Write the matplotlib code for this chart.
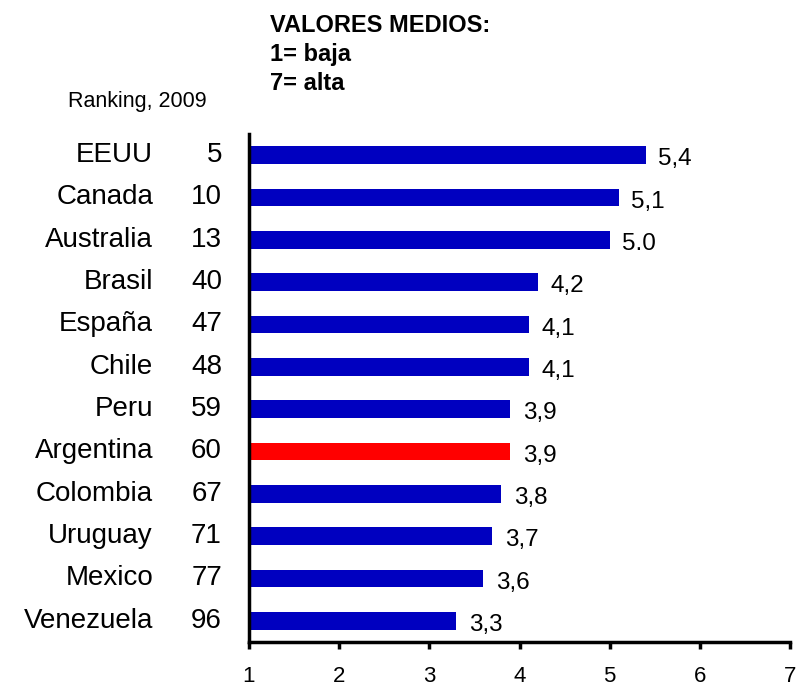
import matplotlib.pyplot as plt

plt.rcParams['font.family'] = ['Liberation Sans', 'DejaVu Sans']

paises = ['EEUU', 'Canada', 'Australia', 'Brasil', 'España', 'Chile',
          'Peru', 'Argentina', 'Colombia', 'Uruguay', 'Mexico', 'Venezuela']
ranking = [5, 10, 13, 40, 47, 48, 59, 60, 67, 71, 77, 96]
valores = [5.4, 5.1, 5.0, 4.2, 4.1, 4.1, 3.9, 3.9, 3.8, 3.7, 3.6, 3.3]
etiquetas = ['5,4', '5,1', '5.0', '4,2', '4,1', '4,1',
             '3,9', '3,9', '3,8', '3,7', '3,6', '3,3']

colores = ['#ff0000' if p == 'Argentina' else '#0000c0' for p in paises]

fig = plt.figure(figsize=(7.96, 6.87), dpi=100)
ax = fig.add_axes([249 / 796, 1 - 642 / 687, 541 / 796, 508 / 687])

y = list(range(len(paises)))
ax.barh(y, [v - 1 for v in valores], left=1, height=0.41, color=colores)

for i, (v, t) in enumerate(zip(valores, etiquetas)):
    ax.text(v + 0.14, i + 0.1, t, fontsize=17.5, va='center', ha='left')

ax.set_xlim(1, 7)
ax.set_ylim(len(paises) - 0.5, -0.5)
ax.set_xticks(range(1, 8))
ax.set_yticks([])
ax.tick_params(axis='x', length=5, width=2.5, direction='out', labelsize=16, pad=12)

for s in ['top', 'right']:
    ax.spines[s].set_visible(False)
ax.spines['left'].set_linewidth(2.5)
ax.spines['bottom'].set_linewidth(2.5)

# nombres de paises y puesto en el ranking a la izquierda
tr = ax.get_yaxis_transform()
for i, (p, r) in enumerate(zip(paises, ranking)):
    ax.annotate(p, xy=(0, i), xycoords=tr, xytext=(-96, 0), textcoords='offset pixels',
                ha='right', va='center', fontsize=20)
    ax.annotate(str(r), xy=(0, i), xycoords=tr, xytext=(-27, 0), textcoords='offset pixels',
                ha='right', va='center', fontsize=20)

for k, linea in enumerate(['VALORES MEDIOS:', '1= baja', '7= alta']):
    fig.text(270 / 796, 1 - (26 + 28.5 * k) / 687, linea, fontsize=17,
             fontweight='bold', va='center', ha='left')
fig.text(68 / 796, 1 - 102 / 687, 'Ranking, 2009', fontsize=15.5, va='center', ha='left')

fig.savefig('out.png', dpi=100)
